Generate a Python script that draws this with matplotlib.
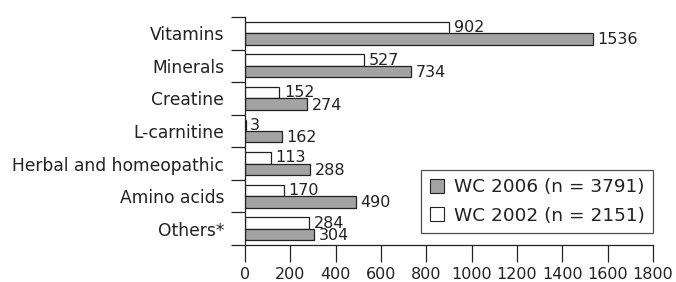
import numpy as np
import matplotlib.pyplot as plt
from matplotlib.patches import Patch

plt.rcParams['font.family'] = ['DejaVu Sans']

categories = ['Vitamins', 'Minerals', 'Creatine', 'L-carnitine',
              'Herbal and homeopathic', 'Amino acids', 'Others*']
wc2002 = [902, 527, 152, 3, 113, 170, 284]
wc2006 = [1536, 734, 274, 162, 288, 490, 304]
xticks = [0, 200, 400, 600, 800, 1000, 1200, 1400, 1600, 1800]

ink = '#222222'
grey = '#a3a3a3'
h = 0.35

fig = plt.figure(figsize=(6.76, 2.82), dpi=100)
ax = fig.add_axes([245 / 676, 1 - 245 / 282, 408 / 676, 228 / 282])

y = np.arange(len(categories)) + 0.5
ax.barh(y - h / 2, wc2002, height=h, color='white', edgecolor=ink, linewidth=0.9)
ax.barh(y + h / 2, wc2006, height=h, color=grey, edgecolor=ink, linewidth=0.9)

for yi, v in zip(y, wc2002):
    ax.text(v + 20, yi - h / 2, str(v), va='center', ha='left', fontsize=11.5, color=ink)
for yi, v in zip(y, wc2006):
    ax.text(v + 20, yi + h / 2 + 0.03, str(v), va='center', ha='left', fontsize=11.5, color=ink)

ax.set_xlim(0, 1800)
ax.set_ylim(len(categories), 0)
ax.set_xticks(xticks)
ax.set_xticklabels([str(t) for t in xticks], fontsize=11.5, color=ink)
ax.set_yticks(np.arange(len(categories) + 1))
ax.set_yticklabels([])
ax.set_yticks(y, minor=True)
ax.set_yticklabels(categories, minor=True, fontsize=12.3, color=ink)
ax.tick_params(axis='y', which='major', length=10, width=0.9, color=ink, direction='out')
ax.tick_params(axis='y', which='minor', length=0, pad=15)
ax.tick_params(axis='x', length=12, width=0.9, color=ink, direction='out', pad=4)

for s in ['top', 'right']:
    ax.spines[s].set_visible(False)
for s in ['left', 'bottom']:
    ax.spines[s].set_linewidth(0.9)
    ax.spines[s].set_color(ink)

handles = [Patch(facecolor=grey, edgecolor=ink, linewidth=0.8, label='WC 2006 (n = 3791)'),
           Patch(facecolor='white', edgecolor=ink, linewidth=0.8, label='WC 2002 (n = 2151)')]
leg = ax.legend(handles=handles, loc='lower right', bbox_to_anchor=(1.0, 0.053),
                fontsize=13.3, frameon=True, fancybox=False, handlelength=0.75,
                handleheight=0.75, handletextpad=0.55, borderpad=0.45, labelspacing=0.55,
                borderaxespad=0)
leg.get_frame().set_edgecolor(ink)
leg.get_frame().set_linewidth(0.9)
for t in leg.get_texts():
    t.set_color(ink)

fig.savefig('out.png', dpi=100)
